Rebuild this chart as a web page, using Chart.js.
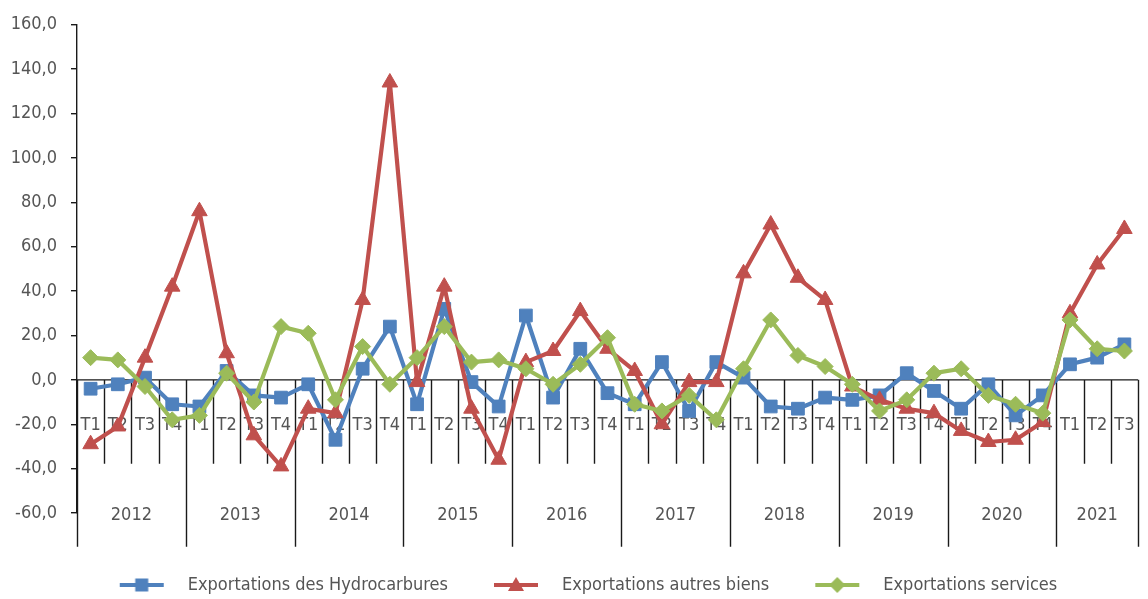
<!DOCTYPE html>
<html>
<head>
<meta charset="utf-8">
<script src="https://cdn.jsdelivr.net/npm/chart.js@4.4.1/dist/chart.umd.min.js"></script>
<style>
  html, body { margin: 0; padding: 0; background: #fff; }
</style>
</head>
<body>
<canvas id="exportChart" width="1148" height="599"></canvas>
<script>
const years = ['2012', '2013', '2014', '2015', '2016', '2017', '2018', '2019', '2020', '2021'];
const quartersPerYear = [4, 4, 4, 4, 4, 4, 4, 4, 4, 3];
const quarterLabels = [
  'T1', 'T2', 'T3', 'T4', 'T1', 'T2', 'T3', 'T4', 'T1', 'T2', 'T3', 'T4',
  'T1', 'T2', 'T3', 'T4', 'T1', 'T2', 'T3', 'T4', 'T1', 'T2', 'T3', 'T4',
  'T1', 'T2', 'T3', 'T4', 'T1', 'T2', 'T3', 'T4', 'T1', 'T2', 'T3', 'T4',
  'T1', 'T2', 'T3'
];

// 2012 T1 ... 2021 T3
const hydrocarbures = [
  -4, -2, 1, -11,   -12, 4, -7, -8,    -2, -27, 5, 24,   -11, 32, -1, -12,
  29, -8, 14, -6,   -11, 8, -14, 8,    1, -12, -13, -8,  -9, -7, 3, -5,
  -13, -2, -16, -7, 7, 10, 16
];
const autresBiens = [
  -29, -21, 10, 42,  76, 12, -25, -39,  -13, -15, 36, 134,  -1, 42, -13, -36,
  8, 13, 31, 14,     4, -20, -1, -1,    48, 70, 46, 36,     -3, -9, -13, -15,
  -23, -28, -27, -19, 30, 52, 68
];
const services = [
  10, 9, -3, -18,   -16, 3, -10, 24,   21, -9, 15, -2,   10, 24, 8, 9,
  5, -2, 7, 19,     -11, -14, -7, -18, 5, 27, 11, 6,     -2, -14, -9, 3,
  5, -7, -11, -15,  27, 14, 13
];

const FONT = "'Liberation Sans Narrow', 'DejaVu Sans Condensed', 'Roboto', sans-serif";
const TEXT = '#555555';
const BLUE = '#4F81BD', RED = '#C0504D', GREEN = '#9BBB59';

Chart.defaults.font.family = FONT;
Chart.defaults.font.size = 18;
Chart.defaults.color = TEXT;

// little line + marker pictures for the legend
function legendSwatch(color, shape) {
  const c = document.createElement('canvas');
  c.width = 70; c.height = 20;
  const g = c.getContext('2d');
  g.strokeStyle = color; g.fillStyle = color; g.lineWidth = 4;
  g.beginPath(); g.moveTo(24, 10); g.lineTo(68, 10); g.stroke();
  const cx = 46, cy = 10;
  g.beginPath();
  if (shape === 'rect') {
    g.rect(cx - 6.5, cy - 6.5, 13, 13);
  } else if (shape === 'triangle') {
    g.moveTo(cx, cy - 8); g.lineTo(cx + 8, cy + 6); g.lineTo(cx - 8, cy + 6); g.closePath();
  } else {
    g.moveTo(cx, cy - 8); g.lineTo(cx + 8, cy); g.lineTo(cx, cy + 8); g.lineTo(cx - 8, cy); g.closePath();
  }
  g.fill();
  return c;
}
const swatches = [legendSwatch(BLUE, 'rect'), legendSwatch(RED, 'triangle'), legendSwatch(GREEN, 'diamond')];

// category axis drawn at the zero line, with quarter and year labels
const quarterAxis = {
  id: 'quarterAxis',
  beforeDatasetsDraw(chart) {
    const { ctx, chartArea, scales: { x, y } } = chart;
    const y0 = y.getPixelForValue(0);
    const half = (x.getPixelForValue(1) - x.getPixelForValue(0)) / 2;
    const yearEdges = new Set([0]);
    let acc = 0;
    quartersPerYear.forEach(n => { acc += n; yearEdges.add(acc); });

    ctx.save();
    ctx.strokeStyle = '#1a1a1a';
    ctx.lineWidth = 1.4;
    ctx.beginPath();
    ctx.moveTo(chartArea.left, y0);
    ctx.lineTo(chartArea.right, y0);
    for (let i = 0; i <= quarterLabels.length; i++) {
      const bx = Math.round(x.getPixelForValue(i) - half) + 0.5;
      ctx.moveTo(bx, y0);
      ctx.lineTo(bx, y0 + (yearEdges.has(i) ? 167 : 84));
    }
    ctx.stroke();

    ctx.fillStyle = TEXT;
    ctx.font = '18px ' + FONT;
    ctx.textAlign = 'center';
    ctx.textBaseline = 'middle';
    quarterLabels.forEach((q, i) => ctx.fillText(q, x.getPixelForValue(i), y0 + 45));

    let start = 0;
    years.forEach((yr, k) => {
      const end = start + quartersPerYear[k] - 1;
      const cx = (x.getPixelForValue(start) + x.getPixelForValue(end)) / 2;
      ctx.fillText(yr, cx, y0 + 135);
      start = end + 1;
    });
    ctx.restore();
  }
};

new Chart(document.getElementById('exportChart'), {
  type: 'line',
  data: {
    labels: quarterLabels,
    datasets: [
      {
        label: 'Exportations des Hydrocarbures',
        data: hydrocarbures,
        borderColor: BLUE, backgroundColor: BLUE,
        pointStyle: 'rect', pointRadius: 9, pointBorderWidth: 1,
        borderWidth: 4.2, borderJoinStyle: 'round', order: 3
      },
      {
        label: 'Exportations autres biens',
        data: autresBiens,
        borderColor: RED, backgroundColor: RED,
        pointStyle: 'triangle', pointRadius: 9, pointBorderWidth: 1,
        borderWidth: 4.2, borderJoinStyle: 'round', order: 2
      },
      {
        label: 'Exportations services',
        data: services,
        borderColor: GREEN, backgroundColor: GREEN,
        pointStyle: 'rectRot', pointRadius: 8, pointBorderWidth: 1,
        borderWidth: 4.2, borderJoinStyle: 'round', order: 1
      }
    ]
  },
  options: {
    responsive: false,
    animation: false,
    layout: { padding: { top: 22, right: 8, left: 0, bottom: -5 } },
    scales: {
      x: {
        offset: true,
        grid: { display: false },
        border: { display: false },
        ticks: { display: false },
        afterFit: s => { s.height = 54; }
      },
      y: {
        min: -60,
        max: 160,
        ticks: {
          stepSize: 20,
          padding: 14,
          color: TEXT,
          callback: v => v.toFixed(1).replace('.', ',')
        },
        grid: { drawOnChartArea: false, tickLength: 6, color: '#1a1a1a', lineWidth: 1.4 },
        border: { color: '#1a1a1a', width: 1.4 },
        afterFit: s => { s.width = 77; }
      }
    },
    plugins: {
      tooltip: { enabled: false },
      legend: {
        position: 'bottom',
        labels: {
          usePointStyle: true,
          pointStyleWidth: 96,
          padding: 9,
          color: TEXT,
          font: { size: 18 },
          sort: (a, b) => a.datasetIndex - b.datasetIndex,
          generateLabels: chart => Chart.defaults.plugins.legend.labels.generateLabels(chart)
            .map(item => Object.assign(item, { pointStyle: swatches[item.datasetIndex] }))
        }
      }
    }
  },
  plugins: [quarterAxis]
});
</script>
</body>
</html>
